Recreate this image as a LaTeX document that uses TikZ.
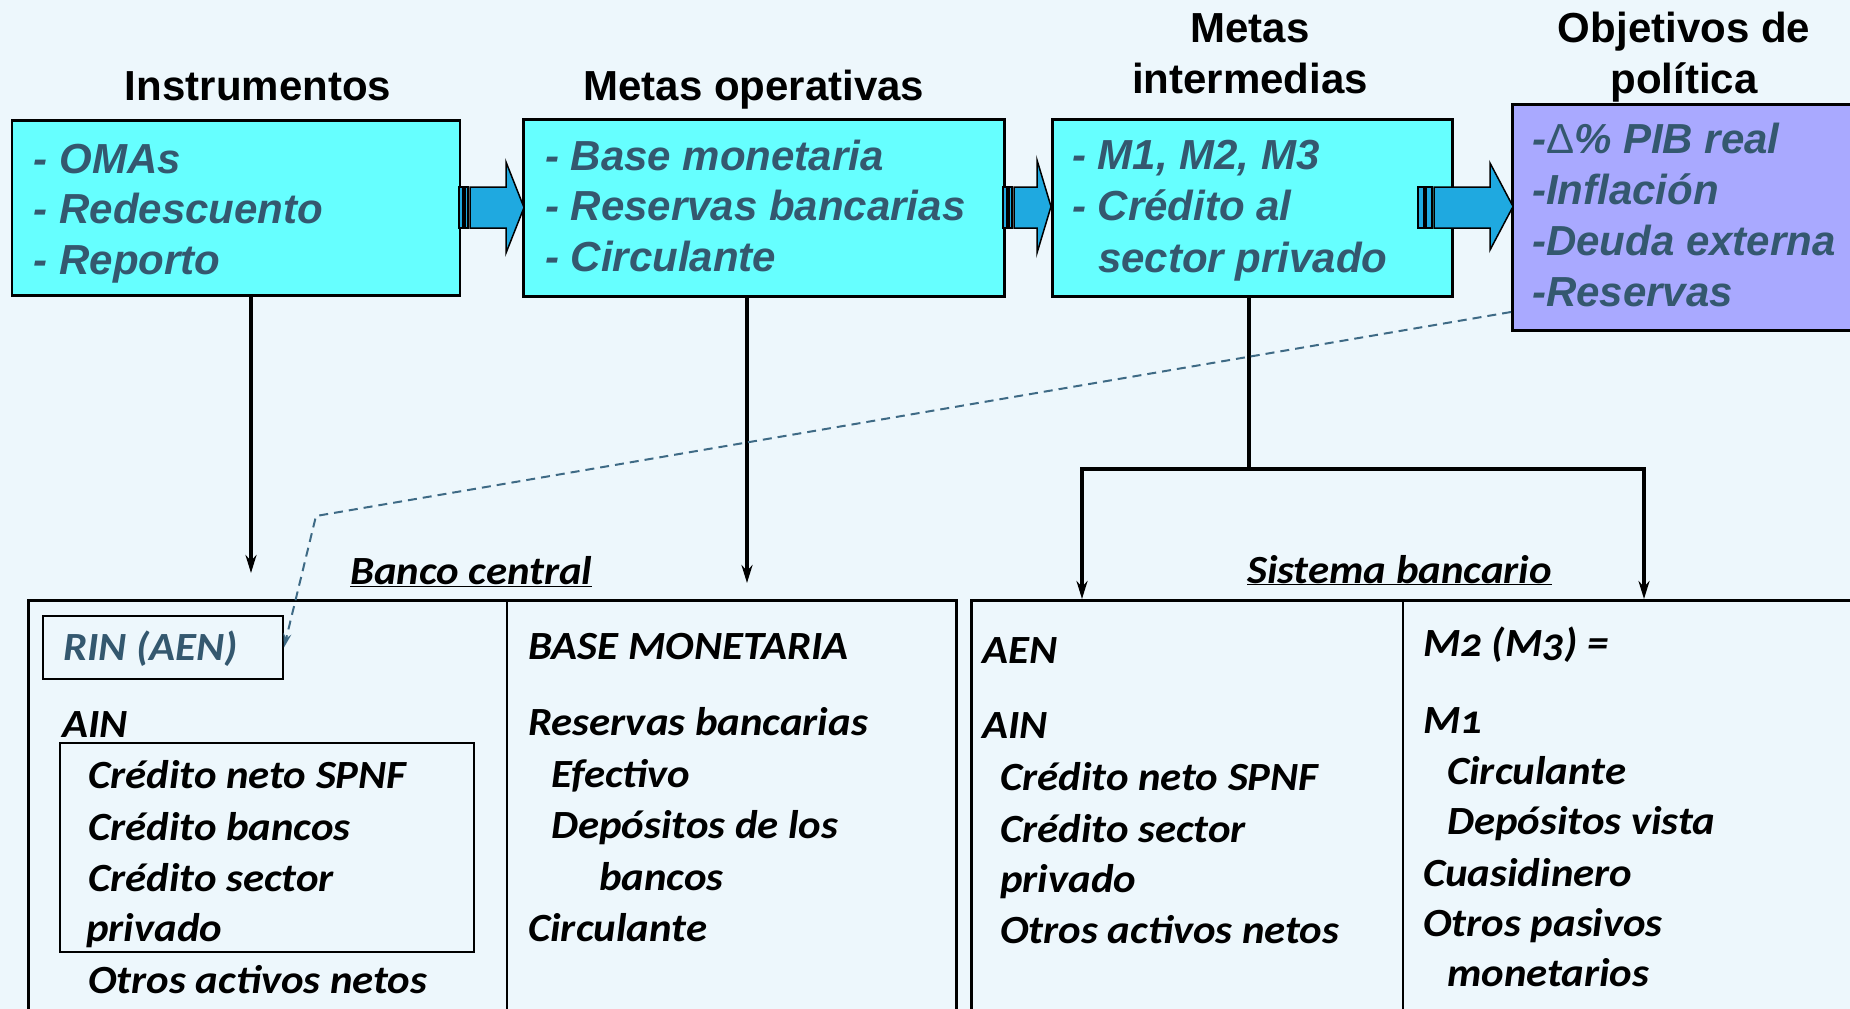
\documentclass[tikz,border=0pt]{standalone}
\usepackage{fontspec}
\setmainfont{Carlito}
\newfontfamily\arialf{Liberation Sans}
\newfontfamily\candf[FakeStretch=1.07,Numbers=OldStyle]{Carlito}
\usetikzlibrary{arrows.meta}
\definecolor{bgc}{HTML}{EDF7FC}
\definecolor{cyanbox}{HTML}{66FFFF}
\definecolor{purplebox}{HTML}{A9A9FF}
\definecolor{slate}{HTML}{34586F}
\definecolor{slatedash}{HTML}{3E6A85}
\definecolor{arrowblue}{HTML}{1FA9E0}
\begin{document}
\begin{tikzpicture}[x=1pt,y=-1pt,
  topbox/.style={draw=black,line width=2.5pt,fill=cyanbox,anchor=north west,inner sep=0pt},
  head/.style={font=\arialf\bfseries\fontsize{42}{51}\selectfont,anchor=base,inner sep=0pt},
  btext/.style={font=\arialf\bfseries\itshape\fontsize{42}{51}\selectfont,text=slate,anchor=base west,inner sep=0pt},
  ctext/.style={font=\candf\bfseries\itshape\fontsize{40}{51}\selectfont,anchor=base west,inner sep=0pt},
  framebox/.style={draw=black,line width=2.5pt,anchor=north west,inner sep=0pt},
  stripe/.style={draw=black,line width=1.5pt,fill=arrowblue},
  conn/.style={line width=3.5pt,-{Stealth[length=18pt,width=11pt]}},
  dashline/.style={draw=slatedash,line width=2pt,dash pattern=on 9pt off 6pt},
]
\useasboundingbox (0,0) rectangle (1850,1009);
\fill[bgc] (0,0) rectangle (1850,1009);
\clip (0,0) rectangle (1850,1009);

% headings
\node[head] (h1) at (258,100) {Instrumentos};
\node[head] (h2) at (754,100) {Metas operativas};
\node[head] (h3a) at (1250,42) {Metas};
\node[head] (h3b) at (1250,93) {intermedias};
\node[head] (h4a) at (1684,42) {Objetivos de};
\node[head] (h4b) at (1684,93) {política};

% top boxes
\node[topbox,minimum width=448pt,minimum height=175pt] (b1) at (10.6,119) {};
\node[topbox,minimum width=481pt,minimum height=177pt] (b2) at (522,118) {};
\node[topbox,minimum width=400pt,minimum height=177pt] (b3) at (1051,118) {};
\node[topbox,fill=purplebox,minimum width=360pt,minimum height=226pt] (b4) at (1511,103) {};

% box texts
\foreach \t [count=\i] in {- OMAs,- Redescuento,- Reporto}
  \node[btext] (ta\i) at (33.6,{173+50.5*(\i-1)}) {\t};
\foreach \t [count=\i] in {- Base monetaria,- Reservas bancarias,- Circulante}
  \node[btext] (tb\i) at (545,{170+50.8*(\i-1)}) {\t};
\node[btext] (tc1) at (1072,169) {- M1, M2, M3};
\node[btext] (tc2) at (1072,220) {- Crédito al};
\node[btext] (tc3) at (1098,272) {sector privado};
\node[btext] (td1) at (1532,153) {-{\upshape\mdseries Δ}\% PIB real};
\foreach \t [count=\i from 2] in {-Inflación,-Deuda externa,-Reservas}
  \node[btext] (td\i) at (1532,{153+51.2*(\i-1)}) {\t};

% striped block arrows
\filldraw[stripe] (459,187) rectangle (463,228);
\filldraw[stripe] (465,187) rectangle (468,228);
\filldraw[stripe] (470,187) -- (506,187) -- (506,162) -- (524,207.5) -- (506,253) -- (506,228) -- (470,228) -- cycle;
\filldraw[stripe] (1003,187) rectangle (1007,228);
\filldraw[stripe] (1009,187) rectangle (1012,228);
\filldraw[stripe] (1014,187) -- (1037,187) -- (1037,160) -- (1051,206.5) -- (1037,253) -- (1037,228) -- (1014,228) -- cycle;
\filldraw[stripe] (1418,187) rectangle (1424,228);
\filldraw[stripe] (1426,187) rectangle (1432,228);
\filldraw[stripe] (1434,187) -- (1490,187) -- (1490,163) -- (1513,206.5) -- (1490,250) -- (1490,228) -- (1434,228) -- cycle;

% bottom frames
\node[framebox,minimum width=928pt,minimum height=440pt] (bc) at (27,599) {};
\node[framebox,minimum width=900pt,minimum height=440pt] (sb) at (970,599) {};
\coordinate (dv1) at (507,0);
\coordinate (dv2) at (1403,0);
\draw[line width=2.5pt] (bc.north -| dv1) -- (bc.south -| dv1);
\draw[line width=2.5pt] (sb.north -| dv2) -- (sb.south -| dv2);
\node[framebox,line width=2pt,minimum width=240pt,minimum height=63pt] (rin) at (42,615) {};
\node[framebox,line width=2pt,minimum width=414pt,minimum height=209pt] (ainbox) at (59,742) {};

% labels
\node[ctext] (lbc) at (350,584) {\underline{Banco central}};
\node[ctext] (lsb) at (1247,583) {\underline{Sistema bancario}};

% Banco central, left column
\node[ctext,text=slate] (r1) at (63,660) {RIN (AEN)};
\node[ctext] (r2) at (62,737) {AIN};
\node[ctext] (r3) at (88,788) {Crédito neto SPNF};
\node[ctext] (r4) at (88,840) {Crédito bancos};
\node[ctext] (r5) at (88,891) {Crédito sector};
\node[ctext] (r6) at (86,941) {privado};
\node[ctext] (r7) at (88,993) {Otros activos netos};
% Banco central, right column
\node[ctext] (m1) at (528,659) {BASE MONETARIA};
\node[ctext] (m2) at (528,735) {Reservas bancarias};
\node[ctext] (m3) at (551,787) {Efectivo};
\node[ctext] (m4) at (551,838) {Depósitos de los};
\node[ctext] (m5) at (599,890) {bancos};
\node[ctext] (m6) at (528,941) {Circulante};
% Sistema bancario, left column
\node[ctext] (s1) at (982,663) {AEN};
\node[ctext] (s2) at (982,738) {AIN};
\node[ctext] (s3) at (1000,790) {Crédito neto SPNF};
\node[ctext] (s4) at (1000,842) {Crédito sector};
\node[ctext] (s5) at (1000,892) {privado};
\node[ctext] (s6) at (1000,943) {Otros activos netos};
% Sistema bancario, right column
\node[ctext] (n1) at (1423,656) {M2 (M3) =};
\node[ctext] (n2) at (1423,733) {M1};
\node[ctext] (n3) at (1447,784) {Circulante};
\node[ctext] (n4) at (1447,834) {Depósitos vista};
\node[ctext] (n5) at (1423,886) {Cuasidinero};
\node[ctext] (n6) at (1423,936) {Otros pasivos};
\node[ctext] (n7) at (1447,986) {monetarios};

% connectors
\coordinate (v1) at (251,573);
\coordinate (v2) at (747,583);
\draw[conn] (b1.south -| v1) -- (v1);
\draw[conn] (b2.south -| v2) -- (v2);
\coordinate (bj) at (1249,469);
\coordinate (bl) at (1082,469);
\coordinate (brr) at (1644,469);
\draw[line width=4pt] (b3.south -| bj) -- (bj);
\draw[line width=4pt,{Stealth[length=18pt,width=11pt]}-{Stealth[length=18pt,width=11pt]}]
  (bl |- sb.north) -- (bl) -- (brr) -- (brr |- sb.north);
\coordinate (dstart) at (1511,312);
\coordinate (dbend) at (316,516);
\draw[dashline,-{Stealth[length=14pt,width=8pt]}] (dstart) -- (dbend) -- (rin.east);
\end{tikzpicture}
\end{document}
